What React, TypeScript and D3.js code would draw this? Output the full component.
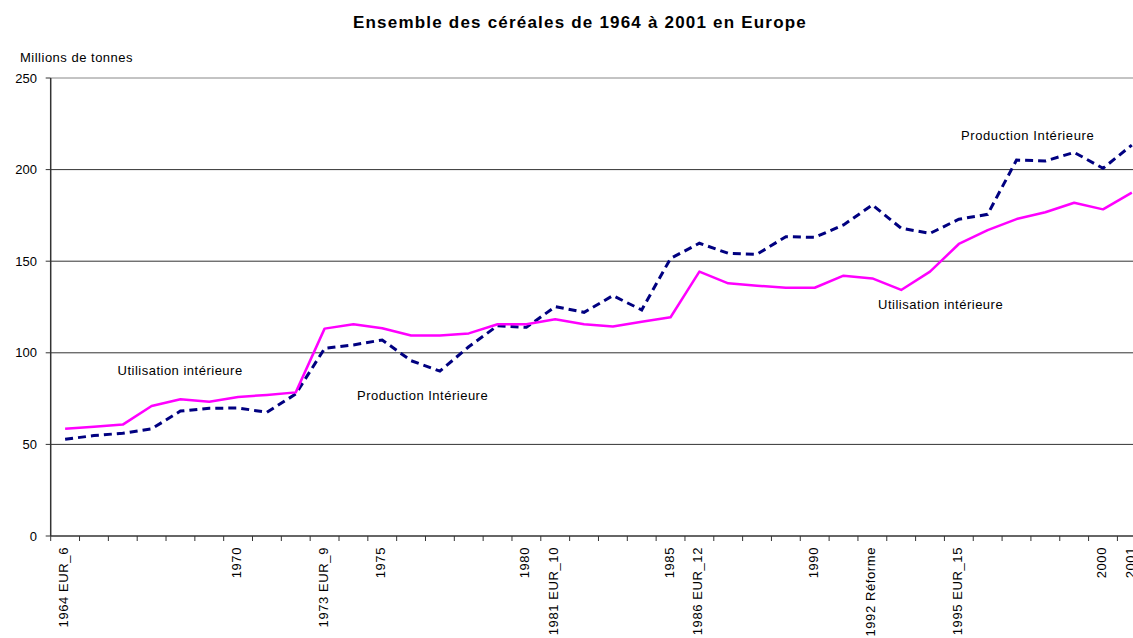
import React from 'react';
import * as d3 from 'd3';

const years = [
  '1964', '1965', '1966', '1967', '1968', '1969', '1970', '1971', '1972', '1973',
  '1974', '1975', '1976', '1977', '1978', '1979', '1980', '1981', '1982', '1983',
  '1984', '1985', '1986', '1987', '1988', '1989', '1990', '1991', '1992', '1993',
  '1994', '1995', '1996', '1997', '1998', '1999', '2000', '2001',
];

const yearLabels = [
  '1964 EUR_6', '', '', '', '', '', '1970', '', '', '1973 EUR_9',
  '', '1975', '', '', '', '', '1980', '1981 EUR_10', '', '',
  '', '1985', '1986 EUR_12', '', '', '', '1990', '', '1992 Réforme', '',
  '', '1995  EUR_15', '', '', '', '', '2000', '2001',
];

// Utilisation intérieure (millions de tonnes)
const utilisation = [
  58.5, 59.7, 60.8, 71, 74.6, 73.3, 75.9, 77, 78.4, 113.2,
  115.6, 113.4, 109.4, 109.4, 110.6, 115.6, 115.6, 118.3, 115.6, 114.3,
  117, 119.4, 144.3, 137.9, 136.6, 135.5, 135.5, 142.1, 140.6, 134.3,
  144.3, 159.4, 167, 173, 176.7, 181.9, 178.3, 187.4,
];

// Production intérieure (millions de tonnes)
const production = [
  52.8, 54.8, 56.1, 58.5, 68.2, 69.7, 69.9, 67.5, 77.5, 102.4,
  104.3, 107, 95.7, 90, 103.3, 114.8, 113.9, 125.2, 122.1, 131.2,
  123.4, 151.5, 159.8, 154.3, 153.8, 163.4, 163, 169.8, 180.7, 168,
  165.2, 172.9, 175.6, 205.2, 204.7, 209.4, 200.7, 213.4,
];

const yTicks = [0, 50, 100, 150, 200, 250];

export default function App() {
  const width = 1133;
  const height = 638;
  const font = '"Liberation Sans", Arial, sans-serif';

  const left = 50.7;
  const band = 28.83;
  const top = 78;
  const bottom = 536;

  const xScale = d3.scaleBand()
    .domain(years)
    .range([left, left + band * years.length])
    .padding(0);

  const yScale = d3.scaleLinear()
    .domain([0, 250])
    .range([bottom, top]);

  const cx = (i: number) => (xScale(years[i]) as number) + xScale.bandwidth() / 2;

  const lineGenerator = d3.line<number>()
    .x((d, i) => cx(i))
    .y(d => yScale(d));

  const boundaries = d3.range(years.length + 1).map(i => left + i * xScale.bandwidth());

  return (
    <svg width={width} height={height} style={{ position: 'absolute', left: 0, top: 0 }} fontFamily={font}>
      <rect width={width} height={height} fill="#fff" />
      <text x={580} y={28} textAnchor="middle" fontSize={17} fontWeight="bold" letterSpacing={1.2} fill="#000">
        Ensemble des céréales de 1964 à 2001 en Europe
      </text>
      <text x={20} y={62} fontSize={13} letterSpacing={0.5} fill="#000">Millions de tonnes</text>

      {/* gridlines */}
      {yTicks.filter(t => t > 0).map(t => (
        <line key={t} x1={left} x2={width + 20} y1={yScale(t)} y2={yScale(t)}
          stroke={t === 250 ? '#888' : '#333'} strokeWidth={1} />
      ))}

      {/* y axis */}
      <line x1={left} x2={left} y1={top} y2={bottom} stroke="#333" strokeWidth={1.5} />
      {yTicks.map(t => (
        <g key={t}>
          <line x1={left - 5} x2={left} y1={yScale(t)} y2={yScale(t)} stroke="#333" />
          <text x={37} y={yScale(t) + 4.5} textAnchor="end" fontSize={13} fill="#000">{t}</text>
        </g>
      ))}

      {/* x axis */}
      <line x1={left} x2={width + 20} y1={bottom} y2={bottom} stroke="#333" strokeWidth={1.5} />
      {boundaries.map((b, i) => (
        <line key={i} x1={b} x2={b} y1={bottom} y2={bottom + 5} stroke="#333" />
      ))}
      {yearLabels.map((lab, i) => lab ? (
        <text key={i} transform={`translate(${cx(i) + 3},547) rotate(-90)`} textAnchor="end"
          fontSize={13} letterSpacing={0.6} fill="#000">{lab}</text>
      ) : null)}

      {/* series */}
      <path d={lineGenerator(production) || ''} fill="none" stroke="#000080" strokeWidth={3}
        strokeDasharray="8 5" />
      <path d={lineGenerator(utilisation) || ''} fill="none" stroke="#FF00FF" strokeWidth={2.5}
        strokeLinejoin="round" />

      {/* annotations */}
      <text x={117.5} y={375} fontSize={13} letterSpacing={0.5} fill="#000">Utilisation intérieure</text>
      <text x={357} y={400} fontSize={13} letterSpacing={0.5} fill="#000">Production Intérieure</text>
      <text x={961} y={140} fontSize={13} letterSpacing={0.6} fill="#000">Production Intérieure</text>
      <text x={878} y={309} fontSize={13} letterSpacing={0.5} fill="#000">Utilisation intérieure</text>
    </svg>
  );
}
